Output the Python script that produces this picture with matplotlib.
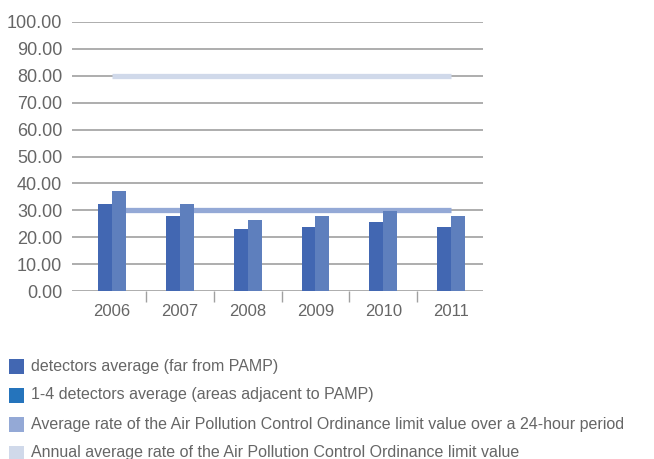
import numpy as np
import matplotlib
matplotlib.use("Agg")
import matplotlib.pyplot as plt
from matplotlib.patches import Rectangle

plt.rcParams['font.family'] = ['Liberation Sans', 'DejaVu Sans']

# --- data ---
years = ['2006', '2007', '2008', '2009', '2010', '2011']
far_avg = [32.3, 27.9, 23.0, 23.8, 25.6, 23.8]
adjacent_avg = [37.2, 32.3, 26.4, 27.9, 29.7, 27.9]
limit_24h = 30.0
limit_annual = 80.0
yticks = [0, 10, 20, 30, 40, 50, 60, 70, 80, 90, 100]
legend_labels = [
    'detectors average (far from PAMP)',
    '1-4 detectors average (areas adjacent to PAMP)',
    'Average rate of the Air Pollution Control Ordinance limit value over a 24-hour period',
    'Annual average rate of the Air Pollution Control Ordinance limit value',
]

c_dark = '#4267b2'
c_light = '#5e7fbd'
c_legend2 = '#2574bc'
c_24h = '#94a9d6'
c_annual = '#d0d9ea'
c_grid = '#a0a0a0'
c_text = '#666666'

W, H = 654, 459
fig = plt.figure(figsize=(W / 100, H / 100), dpi=100)
# axes box in pixels: x 72..483, y(0)=291, y(100)=22
ax = fig.add_axes([72 / W, 1 - 291 / H, (483 - 72) / W, (291 - 22) / H])

x = np.arange(len(years))
bw = 0.206
ax.bar(x - bw / 2, far_avg, width=bw, color=c_dark, zorder=3)
ax.bar(x + bw / 2, adjacent_avg, width=bw, color=c_light, zorder=3)

# limit lines between first and last year
ax.plot([x[0], x[-1]], [limit_24h, limit_24h], color=c_24h, lw=3.8,
        solid_capstyle='butt', zorder=2)
ax.plot([x[0], x[-1]], [limit_annual, limit_annual], color=c_annual, lw=3.8,
        solid_capstyle='butt', zorder=2)

ax.set_xlim(-0.59, 5.47)
ax.set_ylim(0, 100)
ax.set_yticks(yticks)
ax.set_yticklabels([f'{v:.2f}' for v in yticks])
ax.set_xticks(x)
ax.set_xticklabels(years)
ax.set_xticks(x[:-1] + 0.5, minor=True)

ax.grid(axis='y', color=c_grid, lw=1.2, zorder=1)
ax.set_axisbelow(True)
for s in ax.spines.values():
    s.set_visible(False)

ax.tick_params(axis='y', length=0, pad=7, labelsize=13, labelcolor=c_text)
ax.tick_params(axis='x', which='major', length=0, pad=9, labelsize=12, labelcolor=c_text)
ax.tick_params(axis='x', which='minor', length=8, width=1.0, color=c_grid, direction='out')

# legend drawn by hand below the chart
legend_colors = [c_dark, c_legend2, c_24h, c_annual]
row_y = [366, 395, 424, 453]
for lab, col, ry in zip(legend_labels, legend_colors, row_y):
    fig.add_artist(Rectangle((9 / W, 1 - (ry + 7.5) / H), 15 / W, 15 / H,
                             transform=fig.transFigure, color=col, lw=0))
    fig.text(31 / W, 1 - ry / H, lab, fontsize=11.5, color=c_text, va='center', ha='left')

fig.savefig('out.png', dpi=100)
